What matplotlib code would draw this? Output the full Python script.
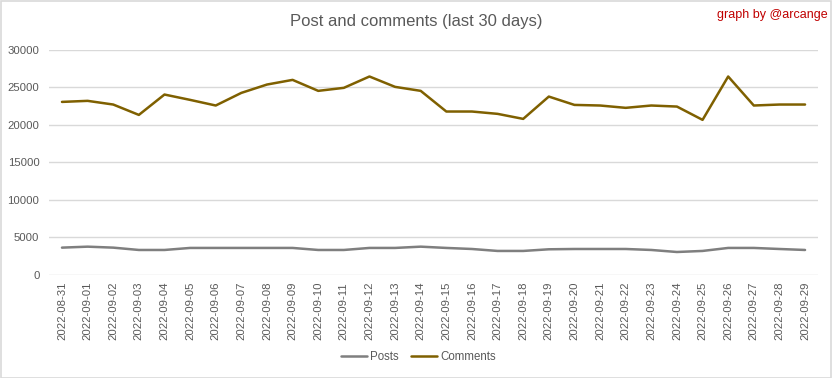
import matplotlib
matplotlib.use("Agg")
import matplotlib.pyplot as plt
from matplotlib.patches import Rectangle

dates = ["2022-08-31", "2022-09-01", "2022-09-02", "2022-09-03", "2022-09-04", "2022-09-05",
         "2022-09-06", "2022-09-07", "2022-09-08", "2022-09-09", "2022-09-10", "2022-09-11",
         "2022-09-12", "2022-09-13", "2022-09-14", "2022-09-15", "2022-09-16", "2022-09-17",
         "2022-09-18", "2022-09-19", "2022-09-20", "2022-09-21", "2022-09-22", "2022-09-23",
         "2022-09-24", "2022-09-25", "2022-09-26", "2022-09-27", "2022-09-28", "2022-09-29"]
posts = [3640, 3770, 3640, 3330, 3330, 3600, 3600, 3600, 3600, 3600, 3330, 3330,
         3600, 3600, 3770, 3600, 3460, 3200, 3200, 3420, 3460, 3460, 3460, 3330,
         3060, 3200, 3600, 3600, 3460, 3330]
comments = [23030, 23170, 22680, 21300, 24010, 23300, 22550, 24230, 25340, 25960, 24500, 24900,
            26410, 25030, 24500, 21750, 21750, 21440, 20770, 23740, 22630, 22550, 22240, 22550,
            22410, 20640, 26410, 22550, 22680, 22680]
yticks = [0, 5000, 10000, 15000, 20000, 25000, 30000]

FONT = ["Liberation Sans", "DejaVu Sans"]
plt.rcParams['font.family'] = FONT

fig = plt.figure(figsize=(8.32, 3.78), dpi=100)
fig.patches.append(Rectangle((0.001, 0.001), 0.998, 0.997, transform=fig.transFigure,
                             fill=False, edgecolor="#D9D9D9", linewidth=1.2))
ax = fig.add_axes([0.0591, 0.2725, 0.9239, 0.5965])

x = list(range(len(dates)))
ax.plot(x, posts, color="#7F7F7F", linewidth=1.8, label="Posts", solid_capstyle="round")
ax.plot(x, comments, color="#7F6000", linewidth=1.8, label="Comments", solid_capstyle="round")

ax.set_xlim(-0.5, len(dates) - 0.5)
ax.set_ylim(0, 30000)
ax.set_yticks(yticks)
ax.set_yticklabels([str(v) for v in yticks])
ax.set_xticks(x)
ax.set_xticklabels(dates, rotation=90)
ax.tick_params(axis="both", length=0, labelsize=8.2, labelcolor="#595959")
ax.tick_params(axis="y", pad=7)
ax.tick_params(axis="x", pad=5)
ax.grid(axis="y", color="#D9D9D9", linewidth=1.0)
ax.set_axisbelow(True)
for s in ax.spines.values():
    s.set_visible(False)

fig.text(0.5, 0.942, "Post and comments (last 30 days)", ha="center", va="center",
         fontsize=12.0, color="#595959")
fig.text(0.995, 0.96, "graph by @arcange", ha="right", va="center", fontsize=9, color="#C00000")

fig.legend(loc="center", bbox_to_anchor=(0.503, 0.055), ncol=2, frameon=False,
           fontsize=8.3, labelcolor="#595959", handlelength=2.2, columnspacing=1.1,
           handletextpad=0.3)

fig.savefig("out.png", dpi=100)
